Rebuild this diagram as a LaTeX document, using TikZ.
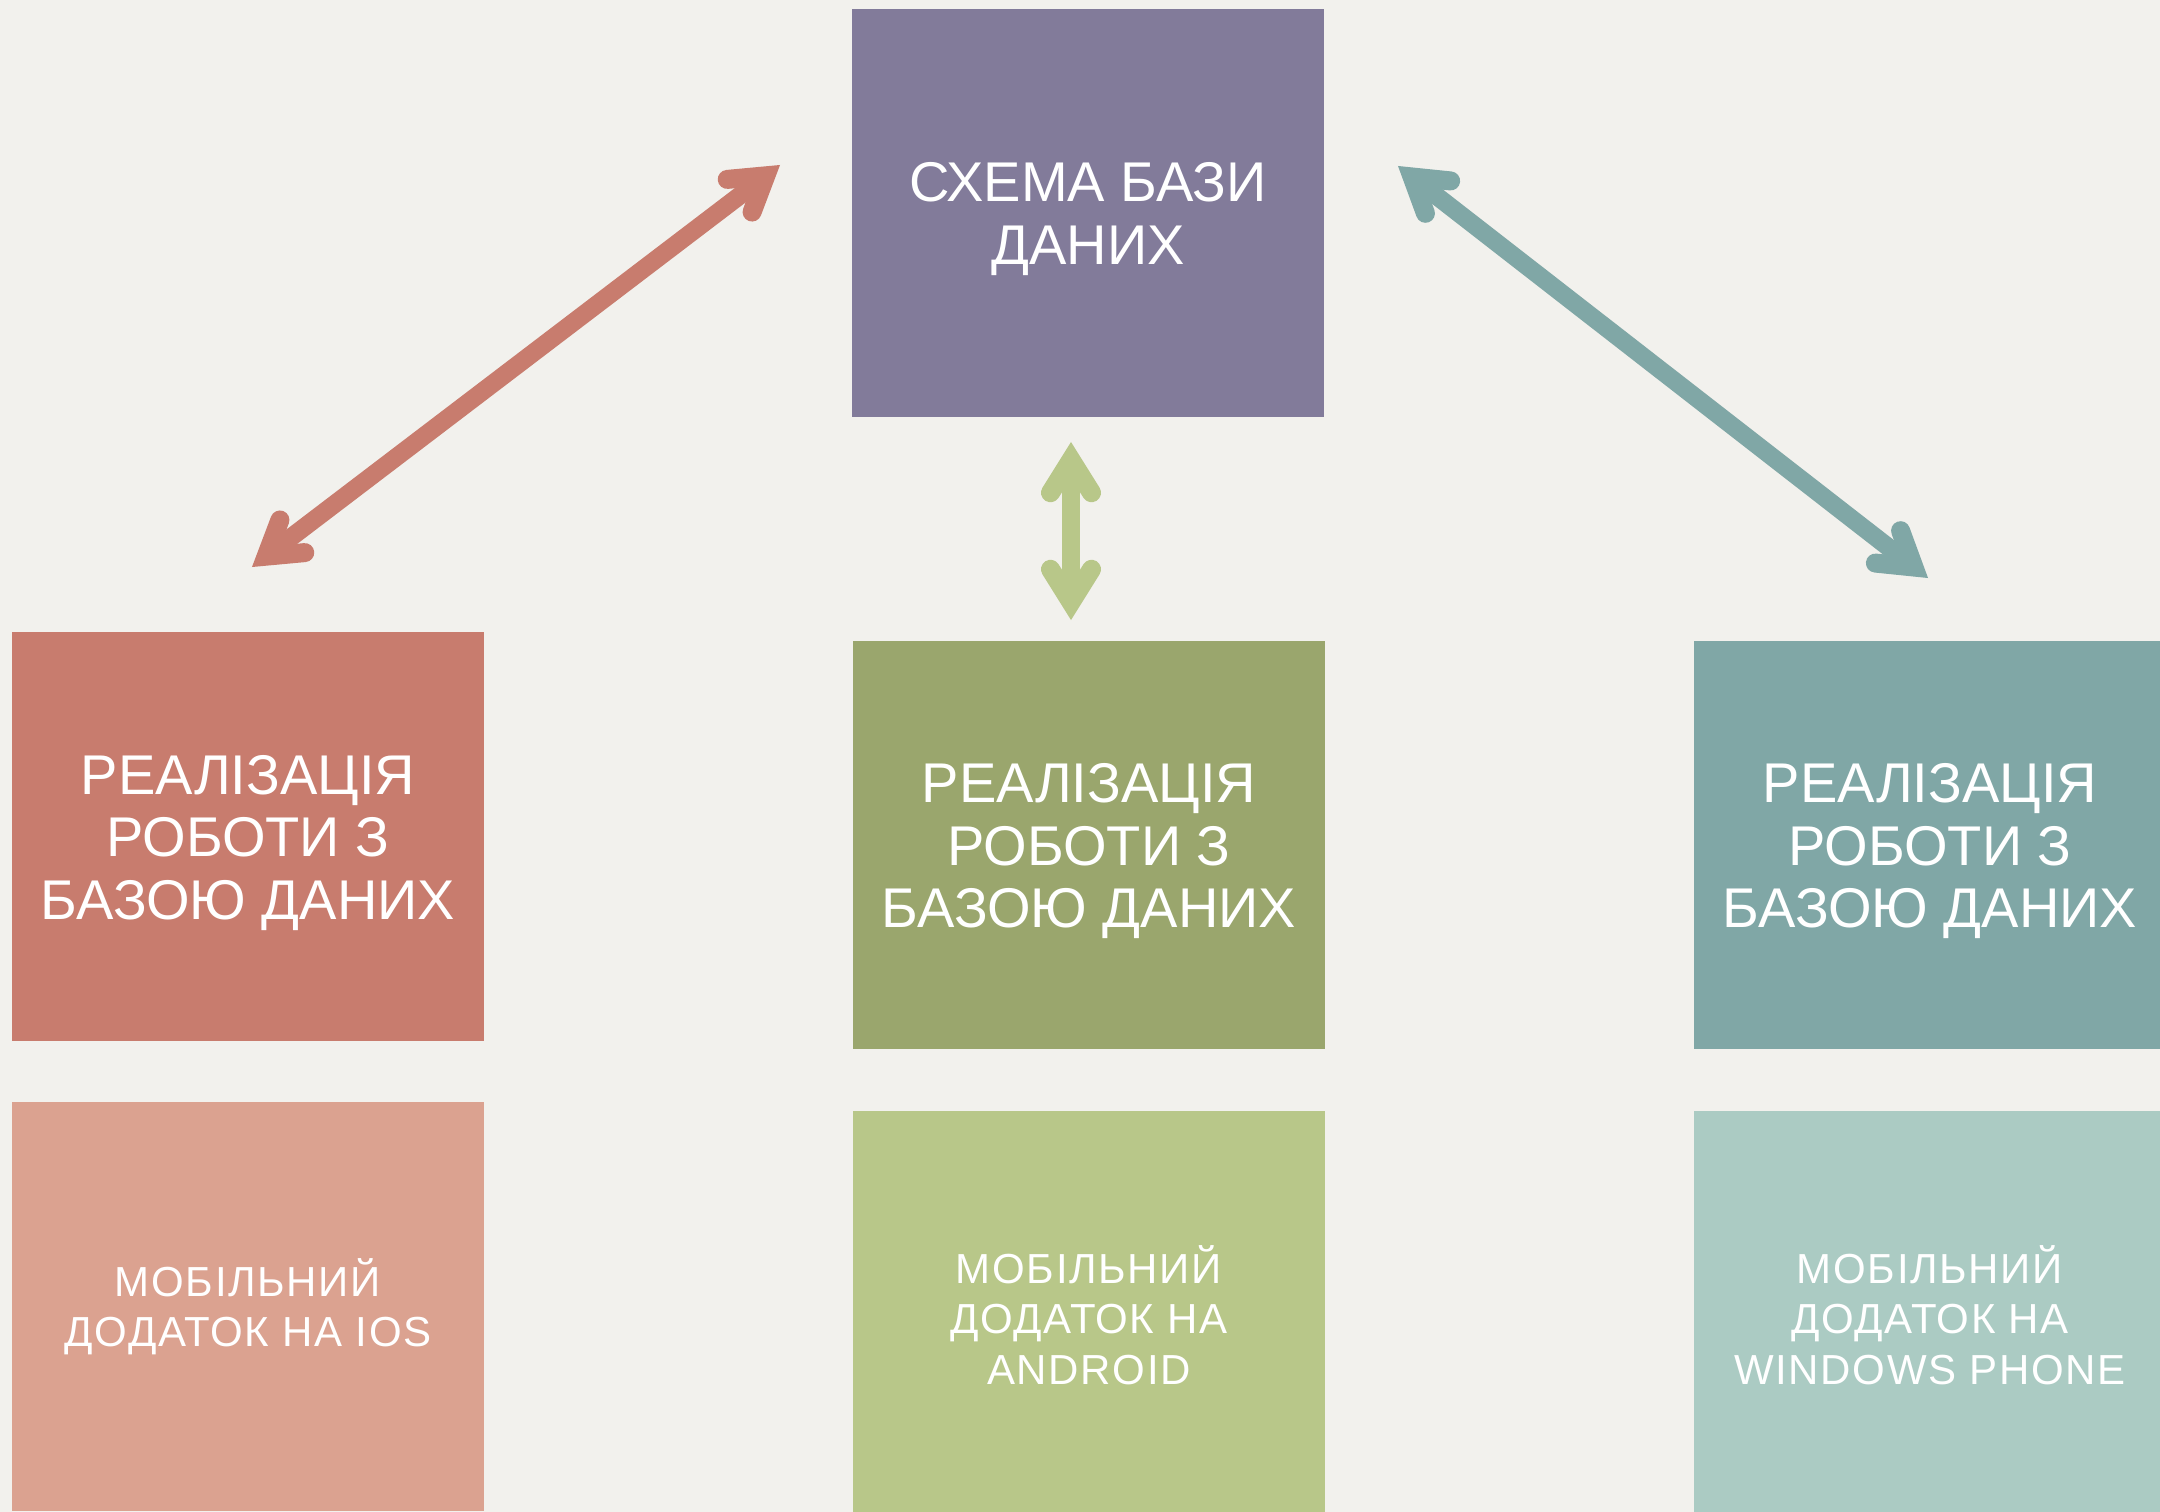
\documentclass[tikz,border=0pt]{standalone}
\usepackage{fontspec}
\setmainfont{Liberation Sans}
\usetikzlibrary{calc}
\definecolor{bgc}{HTML}{F2F1ED}
\definecolor{topc}{HTML}{827B9A}
\definecolor{lmidc}{HTML}{C87C6E}
\definecolor{lbotc}{HTML}{DBA290}
\definecolor{cmidc}{HTML}{9AA66D}
\definecolor{cbotc}{HTML}{B8C789}
\definecolor{rmidc}{HTML}{80A7A6}
\definecolor{rbotc}{HTML}{ABCBC3}
\newcommand\mytopstrut{\rule{0pt}{54pt}}
\newcommand\mybotstrut{\rule[-14pt]{0pt}{14pt}}
% chevron arrow head: #1 tip, #2 other end, #3 colour
\newcommand\chevhead[3]{%
  \coordinate (#1v) at ($(#1)!17.9pt!(#2)$);
  \draw[headline, draw=#3] ($(#1v)!38.7pt!32:(#2)$) -- (#1v) -- ($(#1v)!38.7pt!-32:(#2)$);
}
\tikzset{
  bigbox/.style={rectangle, inner sep=0pt, minimum width=472pt, minimum height=408pt,
    text=white, align=center, font=\fontsize{56}{62.5}\selectfont},
  smallbox/.style={rectangle, inner sep=0pt, minimum width=472pt, minimum height=408pt,
    text=white, align=center, font=\fontsize{42}{50.5}\selectfont\addfontfeature{LetterSpace=4}},
  shaft/.style={line width=18pt, shorten <=17pt, shorten >=17pt},
  headline/.style={line width=19pt, line cap=round, line join=miter, miter limit=10}
}
\begin{document}
\begin{tikzpicture}[x=1pt, y=-1pt]
\useasboundingbox[fill=bgc] (0,0) rectangle (2160,1512);
\node[bigbox, fill=topc] (top) at (1088,213) {\mytopstrut СХЕМА БАЗИ\\ДАНИХ\mybotstrut};
\node[bigbox, fill=lmidc, minimum height=409pt] (lmid) at (248,836.5) {\mytopstrut РЕАЛІЗАЦІЯ\\РОБОТИ З\\БАЗОЮ ДАНИХ\mybotstrut};
\node[bigbox, fill=cmidc] (cmid) at (1089,845) {\mytopstrut РЕАЛІЗАЦІЯ\\РОБОТИ З\\БАЗОЮ ДАНИХ\mybotstrut};
\node[bigbox, fill=rmidc] (rmid) at (1930,845) {\mytopstrut РЕАЛІЗАЦІЯ\\РОБОТИ З\\БАЗОЮ ДАНИХ\mybotstrut};
\node[smallbox, fill=lbotc, minimum height=409pt] (lbot) at (248,1306.5) {МОБІЛЬНИЙ\\ДОДАТОК НА IOS};
\node[smallbox, fill=cbotc] (cbot) at (1089,1315) {МОБІЛЬНИЙ\\ДОДАТОК НА\\ANDROID};
\node[smallbox, fill=rbotc] (rbot) at (1930,1315) {МОБІЛЬНИЙ\\ДОДАТОК НА\\WINDOWS PHONE};
\coordinate (la1) at (780,165);
\coordinate (la2) at (252,567);
\coordinate (ca1) at (1071,442);
\coordinate (ca2) at (1071,620);
\coordinate (ra1) at (1398,166);
\coordinate (ra2) at (1928,578);
\draw[shaft, draw=lmidc] (la1) -- (la2);
\chevhead{la1}{la2}{lmidc}
\chevhead{la2}{la1}{lmidc}
\draw[shaft, draw=cbotc] (ca1) -- (ca2);
\chevhead{ca1}{ca2}{cbotc}
\chevhead{ca2}{ca1}{cbotc}
\draw[shaft, draw=rmidc] (ra1) -- (ra2);
\chevhead{ra1}{ra2}{rmidc}
\chevhead{ra2}{ra1}{rmidc}
\end{tikzpicture}
\end{document}
